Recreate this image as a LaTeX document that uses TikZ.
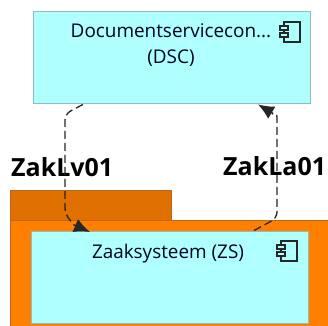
\documentclass[tikz,border=0pt]{standalone}
\usepackage{fontspec}
\setmainfont{Open Sans}
\usetikzlibrary{arrows.meta,calc}
\definecolor{cyanfill}{HTML}{B0FFFF}
\definecolor{cyanline}{HTML}{8FBDBD}
\definecolor{orangebody}{HTML}{FF8000}
\definecolor{orangetab}{HTML}{E07000}
\definecolor{orangeline}{HTML}{B56A20}
\tikzset{
  compbox/.style={draw=cyanline,fill=cyanfill,line width=1.4pt,inner sep=0pt,anchor=north west},
  pkgshape/.style={draw=orangeline,line width=0.8pt,inner sep=0pt,anchor=north west},
  lbl/.style={font=\fontsize{18.9}{26}\selectfont,text=black!85!blue,align=center,inner sep=0pt},
  conlabel/.style={font=\bfseries\fontsize{25}{30}\selectfont,inner sep=0pt,text=black},
  flow/.style={draw=black!85,line width=1.3pt,dash pattern=on 8pt off 4pt,rounded corners=6pt},
  tipline/.style={draw=black!85,line width=1.3pt,-{Latex[length=16pt,width=14pt]}},
  iconline/.style={line width=1.1pt,draw=black!85}
}
\begin{document}
\begin{tikzpicture}[x=1pt,y=-1pt]
\useasboundingbox (0,0) rectangle (328,325);
\node[pkgshape,fill=orangetab,minimum width=161pt,minimum height=32pt] (tab) at (10,190) {};
\node[pkgshape,fill=orangebody,minimum width=320pt,minimum height=108pt] (body) at (10,220) {};
\node[compbox,minimum width=277pt,minimum height=92pt] (dsc) at (32.5,11) {};
\node[compbox,minimum width=277pt,minimum height=92pt] (zs) at (31,230.5) {};
\node[lbl,anchor=north] (dsctext) at (171,23.5) {Documentservicecon...\\(DSC)};
\node[lbl,anchor=north] (zstext) at (168,244) {Zaaksysteem (ZS)};
\node[conlabel,anchor=base west] (lv) at (11,176) {ZakLv01};
\node[conlabel,anchor=base west] (la) at (223,175) {ZakLa01};
\foreach \ox/\oy in {280/21,277/240}{
  \draw[iconline] (\ox+4,\oy+1) -- (\ox+20,\oy+1) -- (\ox+20,\oy+21) -- (\ox+4,\oy+21) -- cycle;
  \draw[iconline,fill=cyanfill] (\ox,\oy+5) rectangle (\ox+8,\oy+9);
  \draw[iconline,fill=cyanfill] (\ox,\oy+12) rectangle (\ox+8,\oy+16);
}
\coordinate (l1) at ([xshift=50.5pt]dsc.south west);
\coordinate (l2) at (65,114);
\coordinate (l3) at (65,214);
\coordinate (l4) at ([xshift=59pt,yshift=-1.5pt]zs.north west);
\coordinate (l5) at ($(l4)+(-16,-7)$);
\coordinate (r1) at ([xshift=223pt]zs.north west);
\coordinate (r2) at (277,218);
\coordinate (r3) at (277,111);
\coordinate (r4) at ([xshift=225.5pt,yshift=0pt]dsc.south west);
\coordinate (r5) at ($(r4)+(15,9)$);
\draw[flow] (l1) -- (l2) -- (l3) -- (l5);
\draw[tipline] (l5) -- (l4);
\draw[flow] (r1) -- (r2) -- (r3) -- (r5);
\draw[tipline] (r5) -- (r4);
\end{tikzpicture}
\end{document}
